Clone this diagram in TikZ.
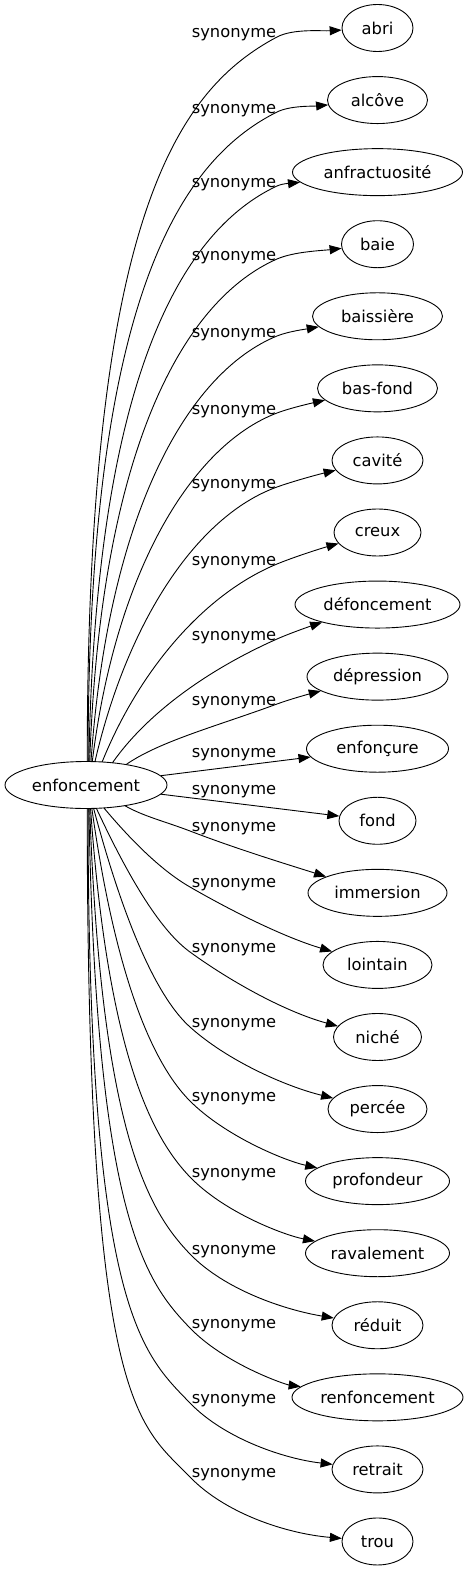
\documentclass[tikz,border=0pt]{standalone}
\usepackage{fontspec}
\setmainfont{DejaVu Sans}
\usetikzlibrary{shapes.geometric,arrows.meta,calc}
\begin{document}
\begin{tikzpicture}[x=1pt,y=-1pt,
  nd/.style={draw, ellipse, line width=0.9pt, minimum height=47pt, inner sep=0pt, font=\fontsize{16.3}{18}\selectfont},
  lab/.style={font=\fontsize{16.3}{18}\selectfont, inner sep=0pt, anchor=base},
  syn/.style={line width=0.9pt, -{Triangle[length=12pt,width=9pt]}}]
\useasboundingbox (0,0) rectangle (469,1571);
\node[nd, minimum width=162pt] (enf) at (86,785) {enfoncement};
\foreach \n/\kk/\w/\t in {abri/0/71/abri, alcove/1/100/alcôve, anfr/2/170/anfractuosité, baie/3/72/baie, baissiere/4/130/baissière, basfond/5/120/bas-fond, cavite/6/91/cavité, creux/7/87/creux, defonc/8/165/défoncement, depress/9/141/dépression, enfoncure/10/142/enfonçure, fond/11/77/fond, immersion/12/139/immersion, lointain/13/109/lointain, niche/14/88/niché, percee/15/99/percée, profondeur/16/144/profondeur, ravalement/17/144/ravalement, reduit/18/91/réduit, renfonc/19/171/renfoncement, retrait/20/91/retrait, trou/21/71/trou}{
  \node[nd, minimum width=\w pt] (\n) at (377.5,28+72.07*\kk) {\t};
}
\foreach \yl [count=\i] in {33,108,182,255,332,409,483,560,635,700,752,789,826,882,947,1022,1096,1172,1249,1323,1398,1472}{
  \node[lab] (lab\i) at (234,\yl+5) {synonyme};
}
% upper edges
\foreach \n/\kk/\an/\yl/\ph/\w in {abri/0/87/33/90/71, alcove/1/85/108/90/100, anfr/2/83/182/89/170, baie/3/81/255/88/72, baissiere/4/78/332/86/130, basfond/5/75/409/83/120, cavite/6/69/483/77/91, creux/7/55/560/68/87, defonc/8/40/635/55/165, depress/9/27/700/35/141}{
  \pgfmathsetmacro\qy{\yl+4}
  \pgfmathsetmacro\yt{28+72.07*\kk}
  \pgfmathsetmacro\rr{81*23.5/sqrt((23.5*cos(\an))^2+(81*sin(\an))^2)}
  \pgfmathsetmacro\tx{86+\rr*cos(\an)}
  \pgfmathsetmacro\ty{785-\rr*sin(\an)}
  \pgfmathsetmacro\dd{\ty-\qy}
  \pgfmathsetmacro\fr{\dd/725}
  \pgfmathsetmacro\aal{0.35+0.4*\fr}
  \pgfmathsetmacro\dyo{\aal*\dd}
  \pgfmathsetmacro\dxo{\dyo*cos(\ph)/sin(\ph)}
  \pgfmathsetmacro\bb{(0.4+0.2*\fr)*(277-\tx)}
  % border point of target towards Q
  \pgfmathsetmacro\ha{\w/2}
  \pgfmathsetmacro\dyq{\qy-\yt}
  \pgfmathsetmacro\ss{1/sqrt((100.5/\ha)^2+(\dyq/23.5)^2)}
  \pgfmathsetmacro\px{377.5-\ss*100.5}
  \pgfmathsetmacro\py{\yt+\ss*\dyq}
  \pgfmathsetmacro\ll{sqrt((\px-277)^2+(\qy-\py)^2)}
  \pgfmathsetmacro\chi{atan2(\qy-\py,\px-277)}
  \pgfmathsetmacro\ps{max(14+14*\fr,\chi+5)}
  \pgfmathsetmacro\phe{max(\chi-5,0)}
  \pgfmathsetmacro\cx{277-\bb*cos(\ps)}
  \pgfmathsetmacro\cy{\qy+\bb*sin(\ps)}
  \pgfmathsetmacro\ex{277+0.28*\ll*cos(\ps)}
  \pgfmathsetmacro\ey{\qy-0.28*\ll*sin(\ps)}
  \pgfmathsetmacro\fx{\px-0.3*\ll*cos(\phe)}
  \pgfmathsetmacro\fy{\py+0.3*\ll*sin(\phe)}
  \draw[syn] (\tx,\ty) .. controls (\tx+\dxo,\ty-\dyo) and (\cx,\cy) .. (277,\qy) .. controls (\ex,\ey) and (\fx,\fy) .. (\n);
}
\draw[syn] (enf) -- (enfoncure);
\draw[syn] (enf) -- (fond);
% lower edges
\foreach \n/\kk/\an/\yl/\ph/\ps in {immersion/12/-28/826/30/21, lointain/13/-52/882/50/30, niche/14/-66/947/65/36, percee/15/-72/1022/75/42, profondeur/16/-76/1096/82/45, ravalement/17/-79/1172/86/46, reduit/18/-81/1249/88/46, renfonc/19/-83/1323/89/46, retrait/20/-85/1398/90/46, trou/21/-87/1472/90/46}{
  \pgfmathsetmacro\qy{\yl+5}
  \pgfmathsetmacro\yt{28+72.07*\kk}
  \pgfmathsetmacro\rr{81*23.5/sqrt((23.5*cos(\an))^2+(81*sin(\an))^2)}
  \pgfmathsetmacro\tx{86+\rr*cos(\an)}
  \pgfmathsetmacro\ty{785-\rr*sin(\an)}
  \pgfmathsetmacro\dd{\qy-\ty}
  \pgfmathsetmacro\fr{\dd/669}
  \pgfmathsetmacro\aal{0.4+0.5*\fr}
  \pgfmathsetmacro\dyo{\aal*\dd}
  \pgfmathsetmacro\dxo{\dyo*cos(\ph)/sin(\ph)}
  \pgfmathsetmacro\bb{25+50*\fr}
  \pgfmathsetmacro\cx{190-\bb*cos(\ps)}
  \pgfmathsetmacro\cy{\qy-\bb*sin(\ps)}
  \pgfmathsetmacro\ex{190+50*cos(\ps)}
  \pgfmathsetmacro\ey{\qy+50*sin(\ps)}
  \pgfmathsetmacro\de{30-22*\fr}
  \draw[syn] (\tx,\ty) .. controls (\tx+\dxo,\ty+\dyo) and (\cx,\cy) .. (190,\qy) .. controls (\ex,\ey) and (285,\yt-\de) .. (\n);
}
\end{tikzpicture}
\end{document}
